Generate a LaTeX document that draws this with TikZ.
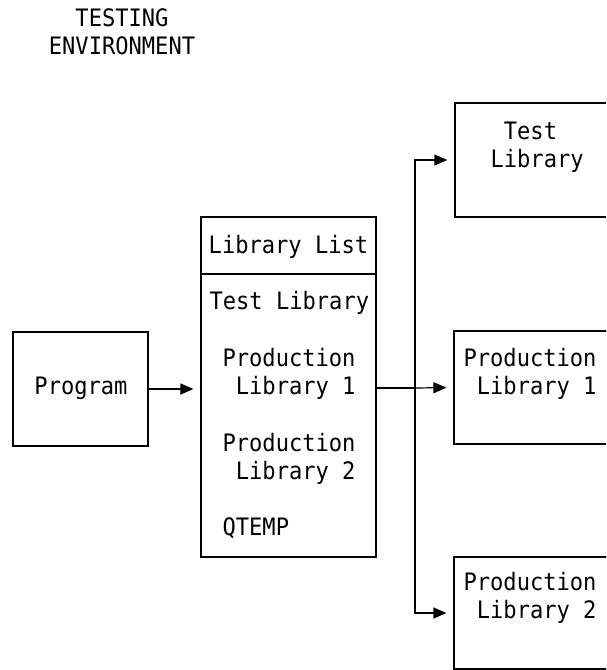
\documentclass[tikz,border=0pt]{standalone}
\usepackage{fontspec}
\setmonofont[FakeStretch=0.92]{DejaVu Sans Mono}
\usetikzlibrary{arrows.meta}
\begin{document}
\begin{tikzpicture}[x=1pt,y=-1pt,line width=1.2pt,
  box/.style={rectangle,draw,inner sep=0pt},
  txt/.style={inner sep=0pt,align=left,font=\ttfamily\fontsize{24}{28}\selectfont},
  arr/.style={-{Triangle[length=13pt,width=11pt]},shorten >=7pt}]
\useasboundingbox (0,0) rectangle (606,670);
\clip (0,0) rectangle (606,670);
%\draw[help lines, step=50] (0,0) grid (606,670);
\node[txt,align=center](title) at (122,32) {TESTING\\ENVIRONMENT};

\node[box,minimum width=135,minimum height=114](prog) at (80.5,389) {};
\node[txt](progtxt) at (81,388) {Program};

\node[box,minimum width=175,minimum height=340](list) at (288.5,387) {};
\draw(list.west |- 0,274)--(list.east |- 0,274);
\node[txt](head) at (288.5,247) {Library List};
\node[txt,anchor=west](l1) at (209,303) {Test Library};
\node[txt,anchor=west](l2) at (222,374) {Production\\\ Library 1};
\node[txt,anchor=west](l3) at (222,459) {Production\\\ Library 2};
\node[txt,anchor=west](l4) at (222,528) {QTEMP};

\node[box,minimum width=200,minimum height=114](tlib) at (555,160) {};
\node[txt,anchor=west](tlibtxt) at (490,147) {\ Test\\Library};
\node[box,minimum width=200,minimum height=113](plib1) at (554,387.5) {};
\node[txt,anchor=west](plib1txt) at (463,374) {Production\\\ Library 1};
\node[box,minimum width=200,minimum height=112](plib2) at (554,613) {};
\node[txt,anchor=west](plib2txt) at (463,598) {Production\\\ Library 2};

\coordinate(junc) at (415,388);
\draw[arr](prog.east)--(prog.east -| list.west);
\draw(list.east |- junc)--(junc);
\draw[arr](junc)--(plib1.west);
\draw[arr](junc) |- (tlib.west);
\draw[arr](junc) |- (plib2.west);
\end{tikzpicture}
\end{document}
